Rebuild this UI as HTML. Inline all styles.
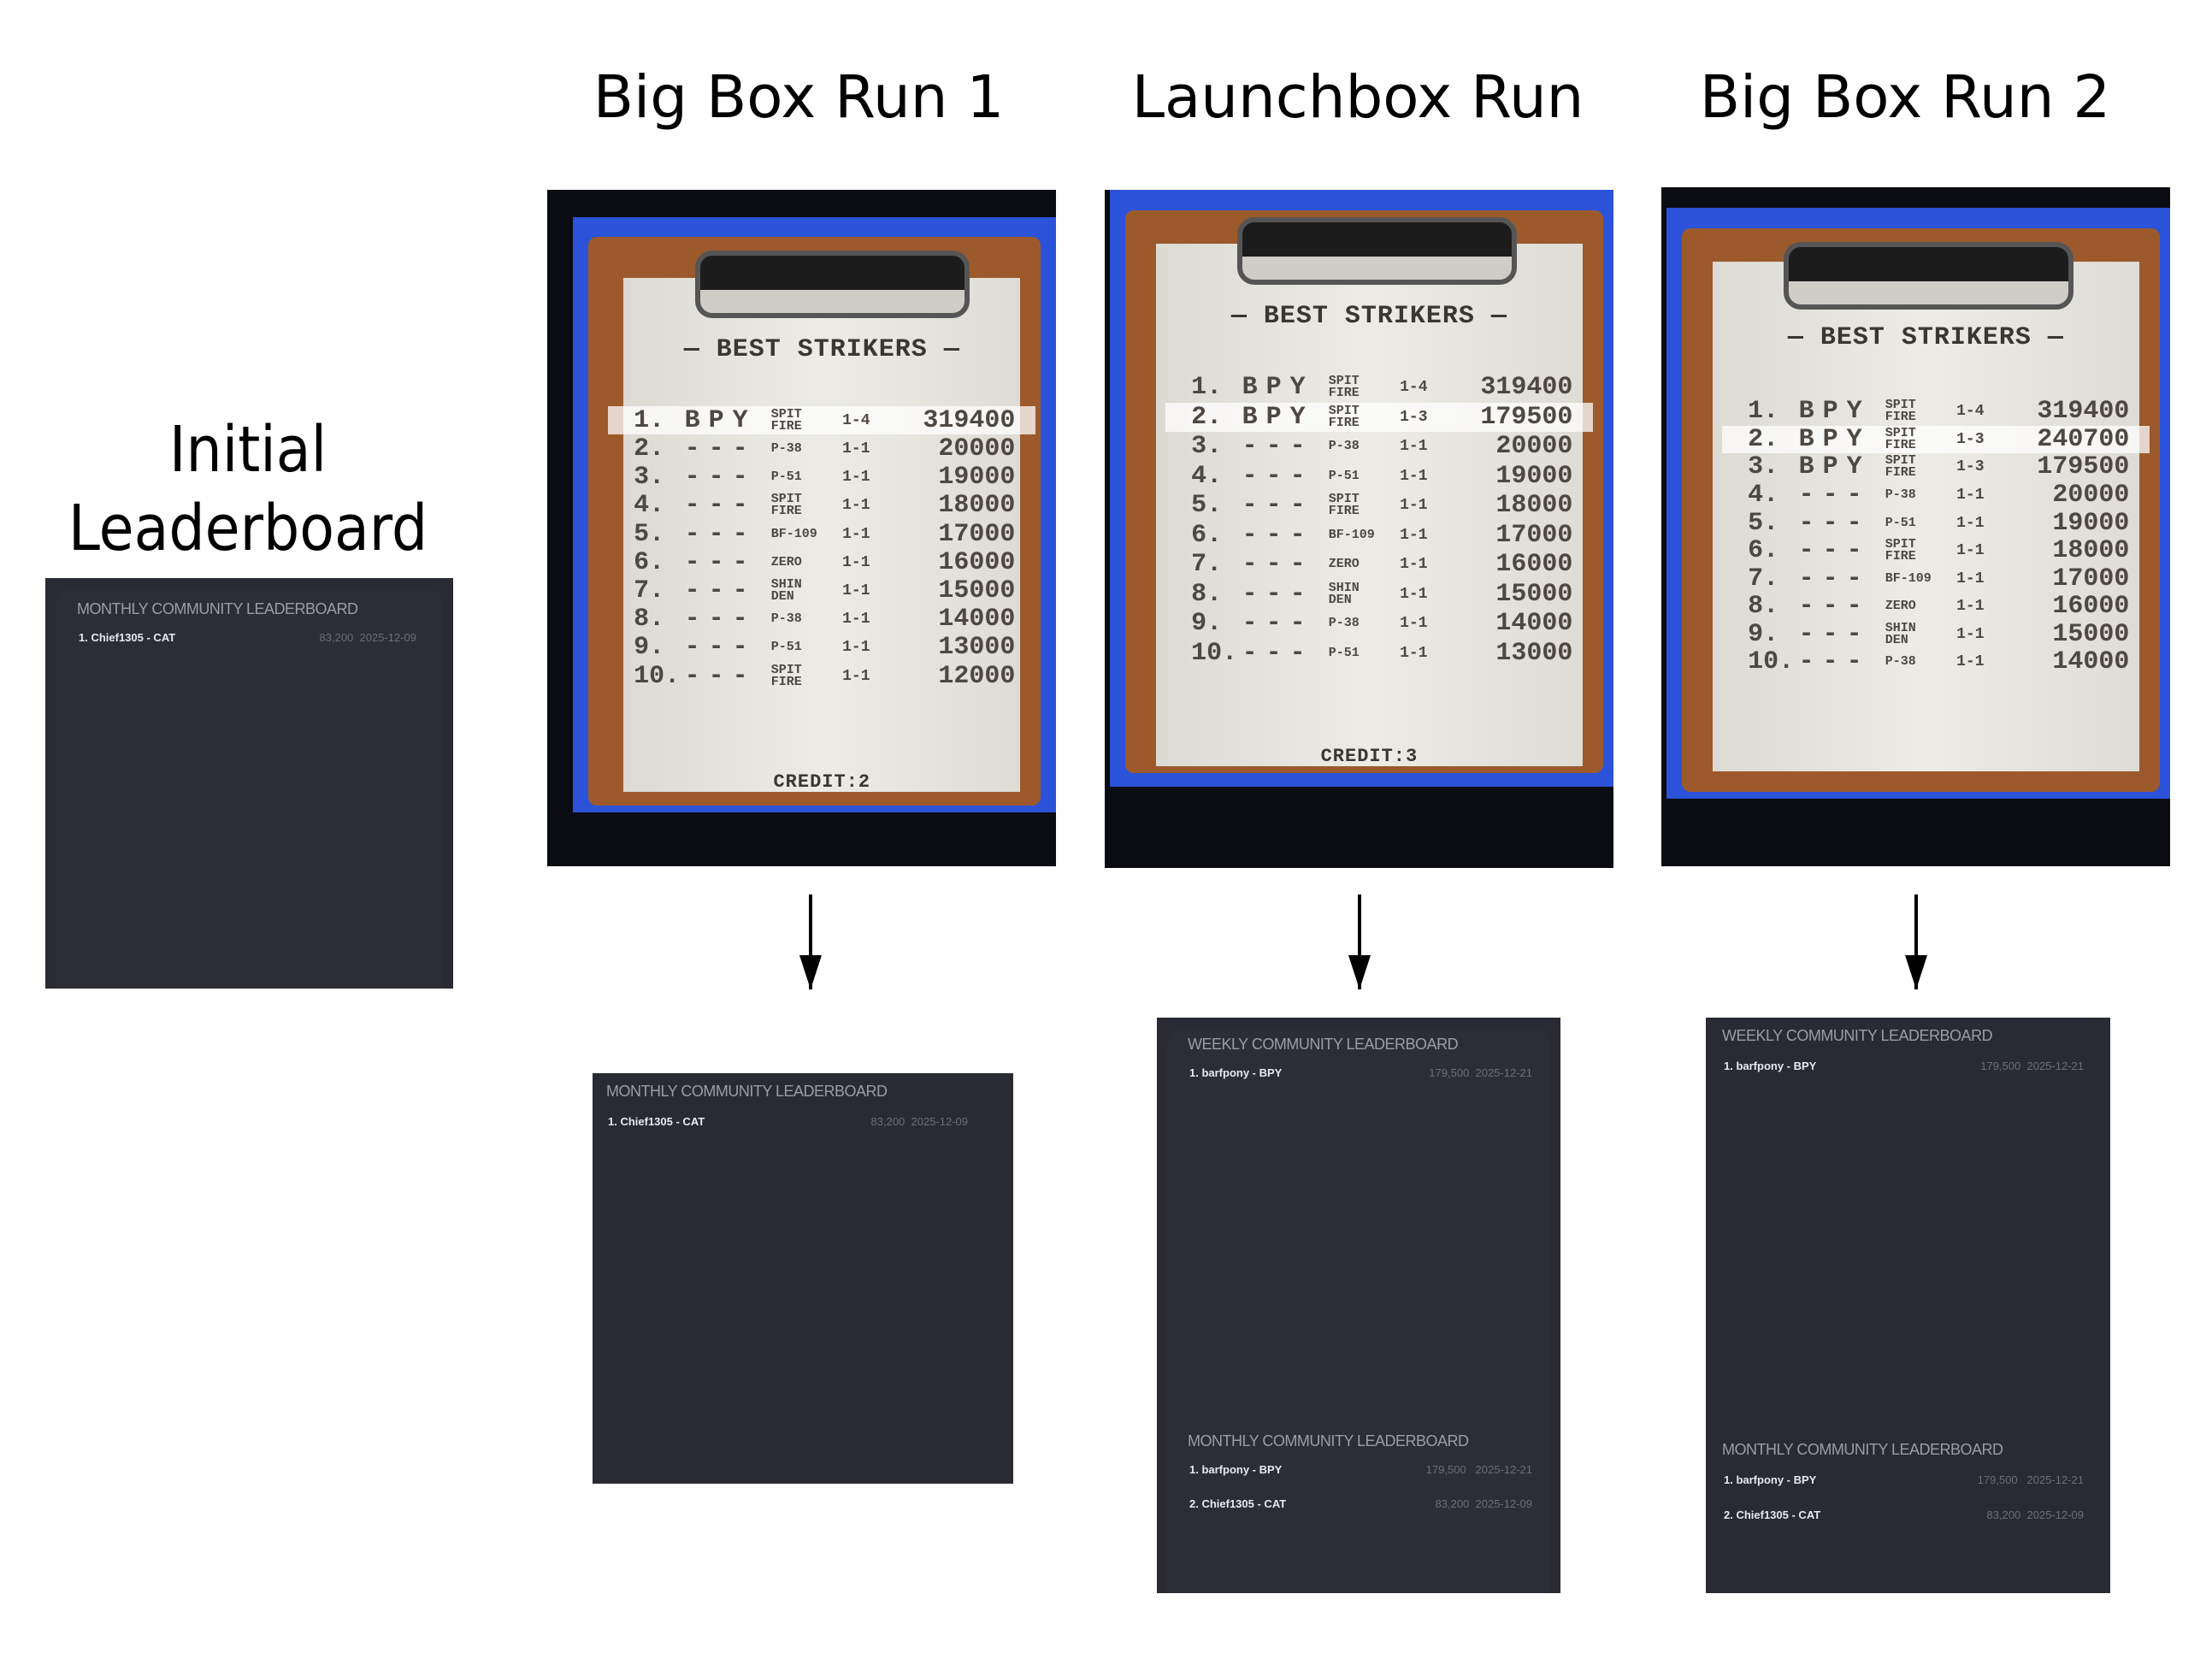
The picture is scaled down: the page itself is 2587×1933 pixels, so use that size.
<!DOCTYPE html>
<html><head><meta charset="utf-8"><style>
*{margin:0;padding:0;box-sizing:border-box}
body{width:2587px;height:1933px;background:#fff;position:relative;overflow:hidden;font-family:"DejaVu Sans","Liberation Sans",sans-serif}
.t{position:absolute;font-size:69px;color:#000;white-space:nowrap;transform:translateX(-50%)}
.ph{position:absolute;background:#0b0b12;overflow:hidden}
.ph>div{position:absolute}
.blue{background:#2b52d8}
.frame{background:#9c5a2c;border-radius:10px}
.paper{background:linear-gradient(90deg,#dcdad3,#ecebe6 50%,#dedcd5)}
.clip{border:6px solid #555;border-radius:20px;background:linear-gradient(#1c1c1c 60%,#cfcdc6 60%)}
.ttl{left:0;right:0;text-align:center;font:bold 30px "Liberation Mono",monospace;color:#3b3630;letter-spacing:1px}
.rows{display:flex;flex-direction:column}
.r{flex:1;position:relative;font:bold 26px "Liberation Mono",monospace;color:#4e4842}
.r span{position:absolute;top:50%;transform:translateY(-50%);white-space:nowrap}
.r .a{left:17%;font-size:30px}.r .b{left:27%;letter-spacing:10px;font-size:30px}.r .c{left:44%;font-size:15px;line-height:14px}.r .d{left:58%;font-size:18px}.r .e{right:8%;font-size:30px}
.hl:before{content:"";position:absolute;left:12%;right:4%;top:0;bottom:0;background:rgba(255,255,255,.75)}
.pan{position:absolute;background:#292a33}
.pan .in{position:absolute;inset:12px 12px 0 12px;background:#2c2d37;border-radius:18px 18px 0 0}
.h{position:absolute;font:18px "Liberation Sans",sans-serif;color:#9a9ca8;white-space:nowrap;letter-spacing:-.5px}
.w{position:absolute;font:bold 13px "Liberation Sans",sans-serif;color:#e8e8ee;white-space:nowrap}
.g{position:absolute;font:13px "Liberation Sans",sans-serif;color:#6c6e78;white-space:nowrap;text-align:right}
.arr{position:absolute;width:4px;background:#000}
.arr:after{content:"";position:absolute;left:-11px;bottom:0;border-left:13px solid transparent;border-right:13px solid transparent;border-top:40px solid #000}
</style></head><body>

<div class="t" style="left:934px;top:74px">Big Box Run 1</div>
<div class="t" style="left:1588px;top:74px">Launchbox Run</div>
<div class="t" style="left:2228px;top:74px">Big Box Run 2</div>
<div class="t" style="left:290px;top:480px;font-size:74px;font-family:'DejaVu Sans Condensed','DejaVu Sans',sans-serif;text-align:center;line-height:92px">Initial<br>Leaderboard</div>

<!-- Photo 1 -->
<div class="ph" style="left:640px;top:222px;width:595px;height:791px">
<div class="blue" style="left:5%;top:4%;width:95%;height:88%"></div>
<div class="frame" style="left:8%;top:7%;width:89%;height:84%"></div>
<div class="paper" style="left:15%;top:13%;width:78%;height:76%"></div>
<div class="clip" style="left:29%;top:9%;width:54%;height:10%"></div>
<div class="ttl" style="top:21.5%;left:15%;right:7%">— BEST STRIKERS —</div>
<div class="rows" style="left:0;right:0;top:32%;height:42%">
<div class="r hl"><span class="a">1.</span><span class="b">BPY</span><span class="c">SPIT<br>FIRE</span><span class="d">1-4</span><span class="e">319400</span></div>
<div class="r"><span class="a">2.</span><span class="b">---</span><span class="c">P-38</span><span class="d">1-1</span><span class="e">20000</span></div>
<div class="r"><span class="a">3.</span><span class="b">---</span><span class="c">P-51</span><span class="d">1-1</span><span class="e">19000</span></div>
<div class="r"><span class="a">4.</span><span class="b">---</span><span class="c">SPIT<br>FIRE</span><span class="d">1-1</span><span class="e">18000</span></div>
<div class="r"><span class="a">5.</span><span class="b">---</span><span class="c">BF-109</span><span class="d">1-1</span><span class="e">17000</span></div>
<div class="r"><span class="a">6.</span><span class="b">---</span><span class="c">ZERO</span><span class="d">1-1</span><span class="e">16000</span></div>
<div class="r"><span class="a">7.</span><span class="b">---</span><span class="c">SHIN<br>DEN</span><span class="d">1-1</span><span class="e">15000</span></div>
<div class="r"><span class="a">8.</span><span class="b">---</span><span class="c">P-38</span><span class="d">1-1</span><span class="e">14000</span></div>
<div class="r"><span class="a">9.</span><span class="b">---</span><span class="c">P-51</span><span class="d">1-1</span><span class="e">13000</span></div>
<div class="r"><span class="a">10.</span><span class="b">---</span><span class="c">SPIT<br>FIRE</span><span class="d">1-1</span><span class="e">12000</span></div>
</div>
<div class="ttl" style="top:86%;left:15%;right:7%;font-size:22px">CREDIT:2</div>
</div>

<!-- Photo 2 -->
<div class="ph" style="left:1292px;top:222px;width:595px;height:793px">
<div class="blue" style="left:1%;top:0;width:99%;height:88%"></div>
<div class="frame" style="left:4%;top:3%;width:94%;height:83%"></div>
<div class="paper" style="left:10%;top:8%;width:84%;height:77%"></div>
<div class="clip" style="left:26%;top:4%;width:55%;height:10%"></div>
<div class="ttl" style="top:16.5%;left:10%;right:6%">— BEST STRIKERS —</div>
<div class="rows" style="left:0;right:0;top:27%;height:43.5%">
<div class="r"><span class="a">1.</span><span class="b">BPY</span><span class="c">SPIT<br>FIRE</span><span class="d">1-4</span><span class="e">319400</span></div>
<div class="r hl"><span class="a">2.</span><span class="b">BPY</span><span class="c">SPIT<br>FIRE</span><span class="d">1-3</span><span class="e">179500</span></div>
<div class="r"><span class="a">3.</span><span class="b">---</span><span class="c">P-38</span><span class="d">1-1</span><span class="e">20000</span></div>
<div class="r"><span class="a">4.</span><span class="b">---</span><span class="c">P-51</span><span class="d">1-1</span><span class="e">19000</span></div>
<div class="r"><span class="a">5.</span><span class="b">---</span><span class="c">SPIT<br>FIRE</span><span class="d">1-1</span><span class="e">18000</span></div>
<div class="r"><span class="a">6.</span><span class="b">---</span><span class="c">BF-109</span><span class="d">1-1</span><span class="e">17000</span></div>
<div class="r"><span class="a">7.</span><span class="b">---</span><span class="c">ZERO</span><span class="d">1-1</span><span class="e">16000</span></div>
<div class="r"><span class="a">8.</span><span class="b">---</span><span class="c">SHIN<br>DEN</span><span class="d">1-1</span><span class="e">15000</span></div>
<div class="r"><span class="a">9.</span><span class="b">---</span><span class="c">P-38</span><span class="d">1-1</span><span class="e">14000</span></div>
<div class="r"><span class="a">10.</span><span class="b">---</span><span class="c">P-51</span><span class="d">1-1</span><span class="e">13000</span></div>
</div>
<div class="ttl" style="top:82%;left:10%;right:6%;font-size:22px">CREDIT:3</div>
</div>

<!-- Photo 3 -->
<div class="ph" style="left:1943px;top:219px;width:595px;height:794px">
<div class="blue" style="left:1%;top:3%;width:99%;height:87%"></div>
<div class="frame" style="left:4%;top:6%;width:94%;height:83%"></div>
<div class="paper" style="left:10%;top:11%;width:84%;height:75%"></div>
<div class="clip" style="left:24%;top:8%;width:57%;height:10%"></div>
<div class="ttl" style="top:20%;left:10%;right:6%">— BEST STRIKERS —</div>
<div class="rows" style="left:0;right:0;top:31%;height:41%">
<div class="r"><span class="a">1.</span><span class="b">BPY</span><span class="c">SPIT<br>FIRE</span><span class="d">1-4</span><span class="e">319400</span></div>
<div class="r hl"><span class="a">2.</span><span class="b">BPY</span><span class="c">SPIT<br>FIRE</span><span class="d">1-3</span><span class="e">240700</span></div>
<div class="r"><span class="a">3.</span><span class="b">BPY</span><span class="c">SPIT<br>FIRE</span><span class="d">1-3</span><span class="e">179500</span></div>
<div class="r"><span class="a">4.</span><span class="b">---</span><span class="c">P-38</span><span class="d">1-1</span><span class="e">20000</span></div>
<div class="r"><span class="a">5.</span><span class="b">---</span><span class="c">P-51</span><span class="d">1-1</span><span class="e">19000</span></div>
<div class="r"><span class="a">6.</span><span class="b">---</span><span class="c">SPIT<br>FIRE</span><span class="d">1-1</span><span class="e">18000</span></div>
<div class="r"><span class="a">7.</span><span class="b">---</span><span class="c">BF-109</span><span class="d">1-1</span><span class="e">17000</span></div>
<div class="r"><span class="a">8.</span><span class="b">---</span><span class="c">ZERO</span><span class="d">1-1</span><span class="e">16000</span></div>
<div class="r"><span class="a">9.</span><span class="b">---</span><span class="c">SHIN<br>DEN</span><span class="d">1-1</span><span class="e">15000</span></div>
<div class="r"><span class="a">10.</span><span class="b">---</span><span class="c">P-38</span><span class="d">1-1</span><span class="e">14000</span></div>
</div>
</div>

<!-- Arrows -->
<div class="arr" style="left:946px;top:1046px;height:111px"></div>
<div class="arr" style="left:1588px;top:1046px;height:111px"></div>
<div class="arr" style="left:2239px;top:1046px;height:111px"></div>

<!-- Initial panel -->
<div class="pan" style="left:53px;top:676px;width:477px;height:480px"><div class="in"></div></div>
<div class="h" style="left:90px;top:702px">MONTHLY COMMUNITY LEADERBOARD</div>
<div class="w" style="left:92px;top:738px">1. Chief1305 - CAT</div>
<div class="g" style="right:2100px;top:738px">83,200 &nbsp;2025-12-09</div>

<!-- BB1 panel -->
<div class="pan" style="left:693px;top:1255px;width:492px;height:480px"></div>
<div class="h" style="left:709px;top:1266px">MONTHLY COMMUNITY LEADERBOARD</div>
<div class="w" style="left:711px;top:1304px">1. Chief1305 - CAT</div>
<div class="g" style="right:1455px;top:1304px">83,200 &nbsp;2025-12-09</div>

<!-- LB panel -->
<div class="pan" style="left:1353px;top:1190px;width:472px;height:673px"><div class="in"></div></div>
<div class="h" style="left:1389px;top:1211px">WEEKLY COMMUNITY LEADERBOARD</div>
<div class="w" style="left:1391px;top:1247px">1. barfpony - BPY</div>
<div class="g" style="right:795px;top:1247px">179,500 &nbsp;2025-12-21</div>
<div class="h" style="left:1389px;top:1675px">MONTHLY COMMUNITY LEADERBOARD</div>
<div class="w" style="left:1391px;top:1711px">1. barfpony - BPY</div>
<div class="g" style="right:795px;top:1711px">179,500 &nbsp; 2025-12-21</div>
<div class="w" style="left:1391px;top:1751px">2. Chief1305 - CAT</div>
<div class="g" style="right:795px;top:1751px">83,200 &nbsp;2025-12-09</div>

<!-- BB2 panel -->
<div class="pan" style="left:1995px;top:1190px;width:473px;height:673px"></div>
<div class="h" style="left:2014px;top:1201px">WEEKLY COMMUNITY LEADERBOARD</div>
<div class="w" style="left:2016px;top:1239px">1. barfpony - BPY</div>
<div class="g" style="right:150px;top:1239px">179,500 &nbsp;2025-12-21</div>
<div class="h" style="left:2014px;top:1685px">MONTHLY COMMUNITY LEADERBOARD</div>
<div class="w" style="left:2016px;top:1723px">1. barfpony - BPY</div>
<div class="g" style="right:150px;top:1723px">179,500 &nbsp; 2025-12-21</div>
<div class="w" style="left:2016px;top:1764px">2. Chief1305 - CAT</div>
<div class="g" style="right:150px;top:1764px">83,200 &nbsp;2025-12-09</div>

</body></html>
